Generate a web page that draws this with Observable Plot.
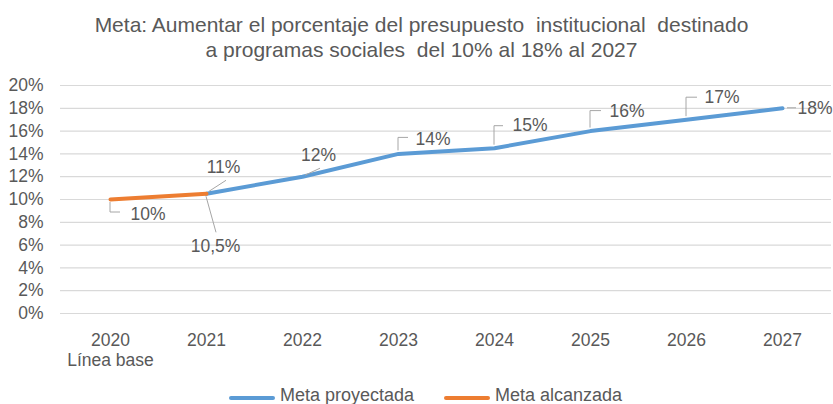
<!DOCTYPE html>
<html>
<head>
<meta charset="utf-8">
<script src="https://cdn.jsdelivr.net/npm/d3@7"></script>
<script src="https://cdn.jsdelivr.net/npm/@observablehq/plot@0.6"></script>
<style>
  html, body { margin: 0; padding: 0; background: #fff; }
  body { width: 833px; height: 404px; overflow: hidden; font-family: "Liberation Sans", Arial, sans-serif; color: #595959; }
  #title { box-sizing: border-box; height: 63px; padding-top: 12px; padding-left: 10px; text-align: center; font-size: 21px; line-height: 25px; white-space: pre; }
  #legend { display: flex; justify-content: center; align-items: center; padding-left: 18px; margin-top: 10px; font-size: 18px; line-height: 20px; white-space: pre; }
  .item { display: flex; align-items: center; }
  .sw { width: 46px; height: 4px; border-radius: 2px; margin-right: 5px; margin-top: 5px; }
  .gap { width: 30px; }
</style>
</head>
<body>
<div id="title"></div>
<div id="chart"></div>
<div id="legend"></div>
<script>
// ---- data ----
const titleLines = ["Meta: Aumentar el porcentaje del presupuesto  institucional  destinado", "a programas sociales  del 10% al 18% al 2027"];
const years = [2020, 2021, 2022, 2023, 2024, 2025, 2026, 2027];
const yearLabels = ["2020\nLínea base", "2021", "2022", "2023", "2024", "2025", "2026", "2027"];
const yTicks = [0, 2, 4, 6, 8, 10, 12, 14, 16, 18, 20];
const seriesNames = ["Meta proyectada", "Meta alcanzada"];
const proyectadaYears = [2021, 2022, 2023, 2024, 2025, 2026, 2027];
const proyectadaValues = [10.5, 12, 14, 14.5, 16, 17, 18];
const proyectadaLabels = ["11%", "12%", "14%", "15%", "16%", "17%", "18%"];
const alcanzadaYears = [2020, 2021];
const alcanzadaValues = [10, 10.5];
const alcanzadaLabels = ["10%", "10,5%"];

// ---- styles (label placement in pixels relative to the point) ----
const colors = ["#5B9BD5", "#ED7D31"];
const textColor = "#595959";
const leaderColor = "#a6a6a6";
const proyectadaLabelStyle = [
  {dx: 17, dy: -26, anchor: "middle", leader: [[3, -2], [20, -13]]},
  {dx: 16, dy: -21, anchor: "middle", leader: [[3, -1], [18, -8]]},
  {dx: 17, dy: -15, anchor: "start", leader: [[0, -3], [0, -16], [10, -16]]},
  {dx: 18, dy: -23, anchor: "start", leader: [[0, -3], [0, -22], [9, -22]]},
  {dx: 19, dy: -20, anchor: "start", leader: [[0, -3], [0, -20], [11, -20]]},
  {dx: 18, dy: -22, anchor: "start", leader: [[0, -3], [0, -22], [11, -22]]},
  {dx: 15, dy: 0, anchor: "start", leader: [[5, 0], [14, 0]]}
];
const alcanzadaLabelStyle = [
  {dx: 20, dy: 15, anchor: "start", leader: [[0, 3], [0, 13], [10, 13]]},
  {dx: 9, dy: 53, anchor: "middle", leader: [[0, 3], [10, 39]]}
];

// ---- build tables ----
const proyectada = proyectadaYears.map((y, i) => ({year: y, value: proyectadaValues[i], label: proyectadaLabels[i], ...proyectadaLabelStyle[i]}));
const alcanzada = alcanzadaYears.map((y, i) => ({year: y, value: alcanzadaValues[i], label: alcanzadaLabels[i], ...alcanzadaLabelStyle[i]}));
const allLabels = [...proyectada, ...alcanzada];

document.getElementById("title").textContent = titleLines.join("\n");

function leaders(data) {
  return (index, scales) => {
    const g = d3.create("svg:g").attr("fill", "none").attr("stroke", leaderColor).attr("stroke-width", 1);
    for (const d of data) {
      const px = scales.x(d.year), py = scales.y(d.value);
      g.append("path").attr("d", "M" + d.leader.map(([a, b]) => (px + a) + "," + (py + b)).join("L"));
    }
    return g.node();
  };
}

function labelsMark(data, anchor) {
  const sub = data.filter(d => d.anchor === anchor);
  return sub.map(d => Plot.text([d], {x: "year", y: "value", text: "label", dx: d.dx, dy: d.dy, textAnchor: anchor, fill: textColor, fontSize: 17.5}));
}

const chart = Plot.plot({
  width: 833,
  height: 312,
  marginTop: 22,
  marginBottom: 62,
  marginLeft: 60,
  marginRight: 2,
  style: {fontFamily: '"Liberation Sans", Arial, sans-serif', fontSize: "17.5px", color: textColor, background: "transparent", overflow: "visible"},
  x: {type: "point", domain: years, padding: 0.5},
  y: {domain: [0, 20]},
  marks: [
    Plot.gridY(yTicks, {stroke: "#d9d9d9", strokeOpacity: 1, strokeWidth: 1.2}),
    Plot.axisY(yTicks, {tickSize: 0, tickPadding: 17, tickFormat: d => d + "%", label: null, fill: textColor, fontSize: 17.5}),
    Plot.axisX(years, {tickSize: 0, tickPadding: 18, tickFormat: (d, i) => yearLabels[years.indexOf(d)], label: null, lineHeight: 1.15, fill: textColor, fontSize: 17.5}),
    Plot.line(proyectada, {x: "year", y: "value", stroke: colors[0], strokeWidth: 4, strokeLinecap: "round", strokeLinejoin: "round"}),
    Plot.line(alcanzada, {x: "year", y: "value", stroke: colors[1], strokeWidth: 4, strokeLinecap: "round", strokeLinejoin: "round"}),
    leaders(allLabels),
    ...labelsMark(allLabels, "start"),
    ...labelsMark(allLabels, "middle")
  ]
});
document.getElementById("chart").appendChild(chart);

const legend = document.getElementById("legend");
seriesNames.forEach((name, i) => {
  if (i > 0) { const gp = document.createElement("div"); gp.className = "gap"; legend.appendChild(gp); }
  const item = document.createElement("div"); item.className = "item";
  const sw = document.createElement("div"); sw.className = "sw"; sw.style.background = colors[i];
  const tx = document.createElement("span"); tx.textContent = name;
  item.appendChild(sw); item.appendChild(tx); legend.appendChild(item);
});
</script>
</body>
</html>
